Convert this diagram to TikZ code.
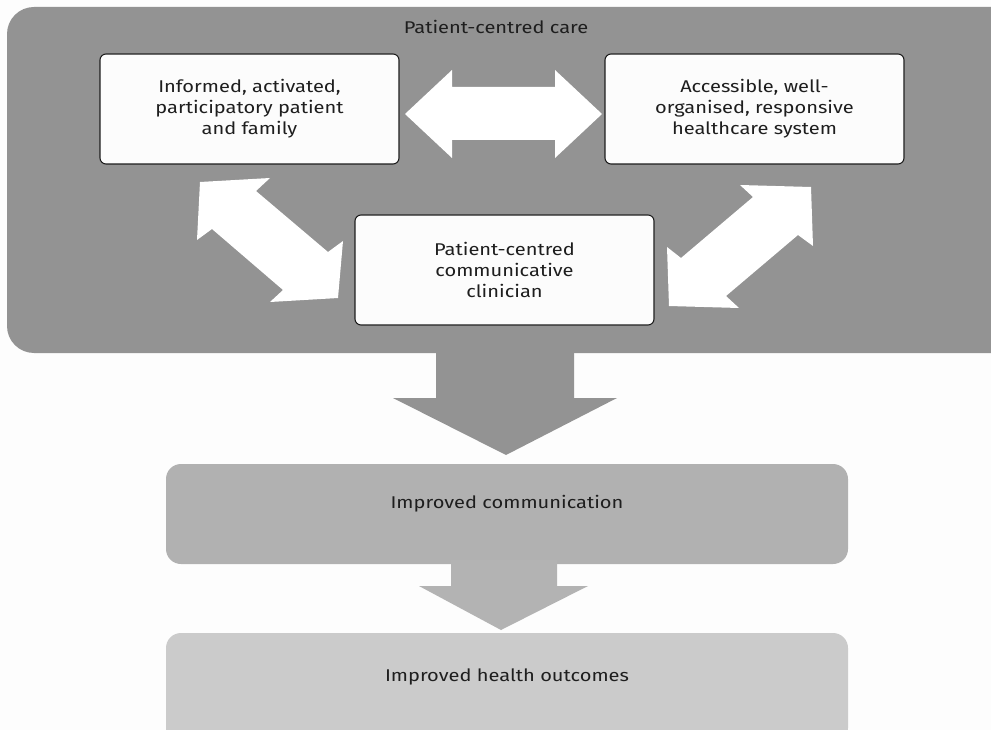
\documentclass[tikz,border=0pt]{standalone}
\usepackage{fontspec}
\setmainfont{Fira Sans}[FakeStretch=1.18]
\definecolor{pagebg}{HTML}{FDFDFD}
\definecolor{frame}{HTML}{939393}
\definecolor{midgrey}{HTML}{B1B1B1}
\definecolor{lightgrey}{HTML}{CBCBCB}
\definecolor{cardfill}{HTML}{FCFCFC}
\definecolor{ink}{HTML}{1E1E1E}
\tikzset{
  label text/.style={text=ink, font=\fontsize{17}{21}\selectfont},
  card/.style={label text, draw=ink, line width=1.1pt, fill=cardfill, rounded corners=6pt,
    minimum width=299pt, minimum height=110pt, align=center, inner sep=0pt},
  stage/.style={rounded corners=15pt, minimum width=682pt, inner sep=0pt},
  blockarrow/.style={fill=white, draw=none},
}
\begin{document}
\begin{tikzpicture}[x=1pt, y=-1pt]
  % page area
  \fill[pagebg] (0,0) rectangle (991,730);
  \useasboundingbox (0,0) rectangle (991,730);
  \clip (0,0) rectangle (991,730);

  % grey frame around the care triangle, with its big outgoing arrow
  \fill[frame, rounded corners=27pt] (7,7) rectangle (1020,353);
  \fill[frame] (436,340) -- (574,340) -- (574,398) -- (617,398) -- (506,455)
               -- (393,398) -- (436,398) -- cycle;
  \node[label text] (title) at (496,27) {Patient-centred care};

  % the three partners
  \node[card] (family) at (249.5,109) {Informed, activated,\\participatory patient\\and family};
  \node[card] (system) at (754.5,109) {Accessible, well-\\organised, responsive\\healthcare system};
  \node[card] (clinician) at (504.5,270) {Patient-centred\\communicative\\clinician};

  % two-way arrows between the partners
  \fill[blockarrow] (405,114) -- (452,70) -- (452,87) -- (555,87) -- (555,70) -- (602,114)
                    -- (555,158) -- (555,140) -- (452,140) -- (452,158) -- cycle;
  \fill[blockarrow] (200,182) -- (270,178) -- (256,191) -- (328,252) -- (343,241) -- (338,298)
                    -- (270,302) -- (283,290) -- (212,229) -- (197,240) -- cycle;
  \fill[blockarrow] (811,187) -- (813,246) -- (798,235) -- (726,296) -- (739,308) -- (669,306)
                    -- (667,247) -- (681,258) -- (753,197) -- (740,185) -- cycle;

  % outcomes
  \node[stage, fill=midgrey, minimum height=100pt] (comm) at (507,514) {};
  \node[label text] (commtext) at (507,504) {Improved communication};
  \fill[midgrey!97!white] (451,560) -- (557,560) -- (557,586) -- (588,586) -- (501,630)
                    -- (419,586) -- (451,586) -- cycle;
  \node[stage, fill=lightgrey, minimum height=110pt] (health) at (507,688) {};
  \node[label text] (healthtext) at (507,677) {Improved health outcomes};
\end{tikzpicture}
\end{document}
